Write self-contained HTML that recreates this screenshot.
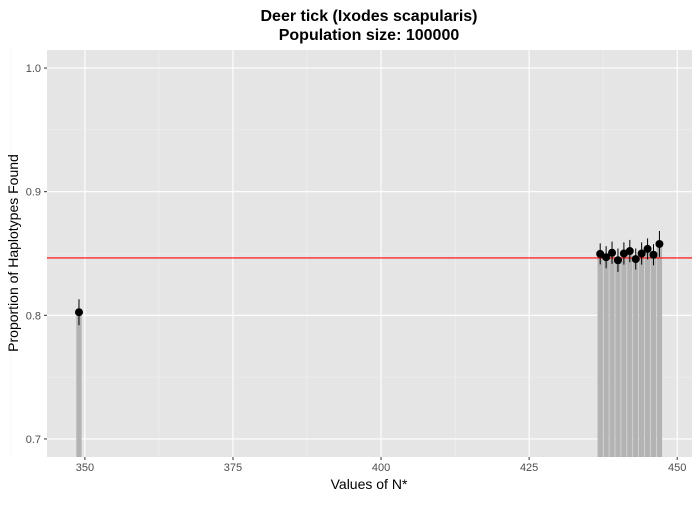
<!DOCTYPE html>
<html><head><meta charset="utf-8"><style>
body{margin:0;background:#fff;font-family:"Liberation Sans",sans-serif}
</style></head><body>
<svg width="700" height="500" xmlns="http://www.w3.org/2000/svg">
<defs><clipPath id="pc"><rect x="47" y="50" width="645" height="407"/></clipPath></defs>
<text x="369" y="21" text-anchor="middle" font-size="16" font-weight="bold">Deer tick (Ixodes scapularis)</text>
<text x="369" y="40" text-anchor="middle" font-size="16" font-weight="bold">Population size: 100000</text>
<rect x="47" y="50" width="645" height="407" fill="#e5e5e5"/>
<g id="grid"></g>
<g id="marks" clip-path="url(#pc)"></g>
<g id="axes"></g>
<text x="369" y="489" text-anchor="middle" font-size="14">Values of N*</text>
<text transform="translate(18,253) rotate(-90)" text-anchor="middle" font-size="14">Proportion of Haplotypes Found</text>
</svg>
<script>
const nValues=[349,437,438,439,440,441,442,443,444,445,446,447];
const props=[0.8025,0.8497,0.847,0.8506,0.8445,0.850,0.852,0.8455,0.850,0.8537,0.849,0.8577];
const errs=[0.0105,0.0085,0.009,0.009,0.0095,0.009,0.009,0.0085,0.009,0.0085,0.0085,0.0105];
const refLine=0.8464;
const xTicks=[350,375,400,425,450];
const yTicks=[0.7,0.8,0.9,1.0];
const xMin=343.6,xMax=452.5,yMin=0.6854,yMax=1.0146;
const L=47,R=692,T=50,B=457;
const sx=v=>L+(v-xMin)/(xMax-xMin)*(R-L);
const sy=v=>B-(v-yMin)/(yMax-yMin)*(B-T);
const NS="http://www.w3.org/2000/svg";
function mk(p,tag,a){const e=document.createElementNS(NS,tag);for(const k in a)e.setAttribute(k,a[k]);p.appendChild(e);return e;}
const grid=document.getElementById('grid'),marks=document.getElementById('marks'),axes=document.getElementById('axes');
for(let i=0;i<xTicks.length;i++){
  const x=sx(xTicks[i]);
  let g=mk(grid,'line',{x1:x,x2:x,y1:T,y2:B,stroke:'#fff','stroke-width':1.1});
  
  
  if(i<xTicks.length-1){const xm=sx((xTicks[i]+xTicks[i+1])/2);
    let m=mk(grid,'line',{x1:xm,x2:xm,y1:T,y2:B,stroke:'#f2f2f2','stroke-width':0.6});
    
    }
  let t=mk(axes,'line',{x1:x,x2:x,y1:B,y2:B+3,stroke:'#333'});
  
  
  let l=mk(axes,'text',{x:x,y:B+14,'text-anchor':'middle','font-size':11,fill:'#4d4d4d'});
  l.textContent=xTicks[i];
  
  
}
{const xm=sx(xTicks[0]-12.5);let m=mk(grid,'line',{x1:xm,x2:xm,y1:T,y2:B,stroke:'#f2f2f2','stroke-width':0.6});}
for(let i=0;i<yTicks.length;i++){
  const y=sy(yTicks[i]);
  let g=mk(grid,'line',{x1:L,x2:R,y1:y,y2:y,stroke:'#fff','stroke-width':1.1});
  
  
  if(i<yTicks.length-1){const ym=sy((yTicks[i]+yTicks[i+1])/2);
    let m=mk(grid,'line',{x1:L,x2:R,y1:ym,y2:ym,stroke:'#f2f2f2','stroke-width':0.6});
    
    }
  let t=mk(axes,'line',{x1:L-3,x2:L,y1:y,y2:y,stroke:'#333'});
  
  
  let l=mk(axes,'text',{x:L-6,y:y+4,'text-anchor':'end','font-size':11,fill:'#4d4d4d'});
  l.textContent=yTicks[i].toFixed(1);
  
  
}
const bw=0.9*(R-L)/(xMax-xMin);
for(let i=0;i<nValues.length;i++){
  const x=sx(nValues[i]),y=sy(props[i]);
  let b=mk(marks,'rect',{x:x-bw/2,y:y,width:bw,height:B-y,fill:'#b3b3b3'});
  
  
}
let rl=mk(marks,'line',{x1:L,x2:R,y1:sy(refLine),y2:sy(refLine),stroke:'#ff0000','stroke-width':1.2});


for(let i=0;i<nValues.length;i++){
  const x=sx(nValues[i]);
  let e=mk(marks,'line',{x1:x,x2:x,y1:sy(props[i]-errs[i]),y2:sy(props[i]+errs[i]),stroke:'#000','stroke-width':1});
  
  
  let p=mk(marks,'circle',{cx:x,cy:sy(props[i]),r:4,fill:'#000'});
  
  
}
</script>
</body></html>
